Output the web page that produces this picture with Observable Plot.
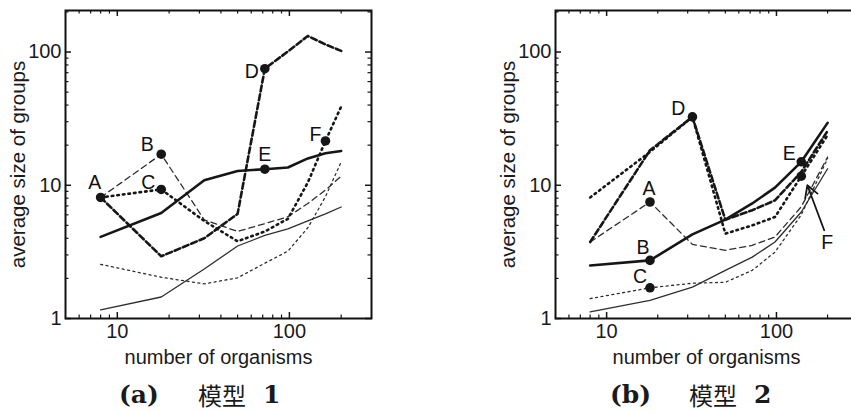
<!DOCTYPE html>
<html><head><meta charset="utf-8">
<script src="https://cdn.jsdelivr.net/npm/d3@7"></script>
<script src="https://cdn.jsdelivr.net/npm/@observablehq/plot@0.6"></script>
<style>
html,body{margin:0;padding:0;}
body{width:851px;height:413px;overflow:hidden;background:#fff;position:relative;font-family:"Liberation Sans",Arial,sans-serif;}
.panel{position:absolute;top:0;}
.cap{position:absolute;top:380px;height:30px;line-height:30px;color:#1a1a1a;white-space:pre;}
.lat{font-family:"DejaVu Serif",serif;font-weight:bold;font-size:25px;}
.cjk{font-family:"Noto Sans CJK SC",sans-serif;font-size:24px;}
</style></head><body>
<div id="pa" class="panel" style="left:0px;width:386px"></div>
<div id="pb" class="panel" style="left:490px;width:382px"></div>
<span class="cap lat" style="left:119px">(a)</span>
<span class="cap cjk" style="left:198px">模型</span>
<span class="cap lat" style="left:263px">1</span>
<span class="cap lat" style="left:610px">(b)</span>
<span class="cap cjk" style="left:689px">模型</span>
<span class="cap lat" style="left:754px">2</span>
<script>
// ---------- data ----------
const xA = [8, 18, 32, 50, 72, 98, 128, 162, 200];
const aThickSolid  = [4.1, 6.2, 10.9, 12.8, 13.2, 13.6, 15.9, 17.4, 18.1];
const aThinSolid   = [1.16, 1.45, 2.35, 3.5, 4.2, 4.7, 5.4, 6.1, 6.87];
const aThickDashed = [8.1, 2.93, 4.0, 6.1, 75, 101, 132, 114, 102];
const aThinDashed  = [8.1, 17.1, 5.5, 4.5, 5.15, 5.8, 7.3, 9.2, 11.7];
const aThickDotted = [8.1, 9.3, 5.4, 3.8, 4.5, 5.6, 10.5, 21.5, 39];
const aFineDotted  = [2.55, 2.04, 1.82, 2.02, 2.6, 3.2, 4.8, 8.2, 15.0];

const xB = [8, 18, 32, 50, 72, 98, 140, 200];
const bThickSolid  = [2.5, 2.73, 4.28, 5.52, 7.3, 9.6, 15.0, 29.4];
const bThinSolid   = [1.12, 1.37, 1.72, 2.3, 2.89, 3.75, 6.3, 13.3];
const bThickDashed = [3.75, 18.3, 32.6, 5.5, 6.5, 7.7, 12.6, 25.6];
const bThinDashed  = [3.75, 7.49, 3.6, 3.25, 3.54, 4.09, 6.9, 16.3];
const bThickDotted = [8.1, 17.8, 32.6, 4.33, 5.0, 5.78, 11.7, 23.8];
const bFineDotted  = [1.41, 1.70, 1.84, 1.87, 2.3, 3.15, 6.0, 15.9];

const pointLabels = ["A", "B", "C", "D", "E", "F"];
const pointXA = [8, 18, 18, 72, 72, 162];
const pointYA = [8.1, 17.1, 9.3, 75, 13.2, 21.5];
const pointXB = [18, 18, 18, 32, 140, 140];
const pointYB = [7.49, 2.73, 1.70, 32.6, 15.0, 11.7];

// annotation arrow (panel b, label F)
const arrowFromB = [191, 4.6];
const arrowToB = [152, 10];

const xTickLabels = [10, 100];
const yTickLabels = [1, 10, 100];
const xMinorTicks = [6, 7, 8, 9, 20, 30, 40, 50, 60, 70, 80, 90, 200];
const yMinorTicks = [2, 3, 4, 5, 6, 7, 8, 9, 20, 30, 40, 50, 60, 70, 80, 90, 200];

const xTitle = "number of organisms";
const yTitle = "average size of groups";

// ---------- styles ----------
const DARK = "#161616", MID = "#2e2e2e";
const styleOf = {
  thickSolid:  {stroke: DARK, strokeWidth: 2.6},
  thinSolid:   {stroke: MID, strokeWidth: 1.3},
  thickDashed: {stroke: DARK, strokeWidth: 2.6, strokeDasharray: "6,3"},
  thinDashed:  {stroke: MID, strokeWidth: 1.3, strokeDasharray: "6,4"},
  thickDotted: {stroke: DARK, strokeWidth: 2.6, strokeDasharray: "1.6,4"},
  fineDotted:  {stroke: MID, strokeWidth: 1.3, strokeDasharray: "2,3.5"}
};
const offsetsA = {A: [-6, -15], B: [-14, -9], C: [-13, -7], D: [-13, 3], E: [0, -14], F: [-10, -6]};
const offsetsB = {A: [-1, -13], B: [-7, -13], C: [-10, -11], D: [-14, -8], E: [-12, -8], F: [26, 67]};

function makePanel({xs, series, px, py, offsets, arrow, plotW}) {
  const mL = 65, mT = 10, mB = 62, mR = 15, plotH = 308;
  const marks = [];
  for (const [name, vals] of Object.entries(series)) {
    const rows = xs.map((x, i) => ({x, y: vals[i]}));
    marks.push(Plot.line(rows, {x: "x", y: "y", strokeLinejoin: "round", ...styleOf[name]}));
  }
  const pts = pointLabels.map((t, i) => ({t, x: px[i], y: py[i]}));
  marks.push(Plot.dot(pts, {x: "x", y: "y", r: 4.8, fill: DARK, stroke: "none"}));
  for (const p of pts) {
    const [dx, dy] = offsets[p.t];
    marks.push(Plot.text([p], {x: "x", y: "y", text: "t", dx, dy, fontSize: 19.5, fill: "#111"}));
  }
  if (arrow) {
    marks.push(Plot.arrow([arrow], {x1: d => d[0][0], y1: d => d[0][1], x2: d => d[1][0], y2: d => d[1][1],
      stroke: DARK, strokeWidth: 1.8, headLength: 11}));
  }
  // ticks (inward, all four sides)
  marks.push(Plot.tickX(xMinorTicks, {x: d => d, insetTop: plotH - 3.5, stroke: DARK, strokeWidth: 1.2}));
  marks.push(Plot.tickX(xMinorTicks, {x: d => d, insetBottom: plotH - 3.5, stroke: DARK, strokeWidth: 1.2}));
  marks.push(Plot.tickX(xTickLabels, {x: d => d, insetTop: plotH - 6, stroke: DARK, strokeWidth: 1.5}));
  marks.push(Plot.tickX(xTickLabels, {x: d => d, insetBottom: plotH - 6, stroke: DARK, strokeWidth: 1.5}));
  marks.push(Plot.tickY(yMinorTicks, {y: d => d, insetRight: plotW - 3.5, stroke: DARK, strokeWidth: 1.2}));
  marks.push(Plot.tickY(yMinorTicks, {y: d => d, insetLeft: plotW - 3.5, stroke: DARK, strokeWidth: 1.2}));
  marks.push(Plot.tickY(yTickLabels, {y: d => d, insetRight: plotW - 6, stroke: DARK, strokeWidth: 1.5}));
  marks.push(Plot.tickY(yTickLabels, {y: d => d, insetLeft: plotW - 6, stroke: DARK, strokeWidth: 1.5}));
  marks.push(Plot.frame({stroke: "#111", strokeWidth: 2}));
  // tick labels
  marks.push(Plot.text(xTickLabels, {x: d => d, text: d => String(d), frameAnchor: "bottom", dy: 19, fontSize: 20, fill: "#1a1a1a"}));
  marks.push(Plot.text(yTickLabels, {y: d => d, text: d => String(d), frameAnchor: "left", textAnchor: "end", dx: -4, fontSize: 20, fill: "#1a1a1a"}));
  // axis titles
  marks.push(Plot.text([xTitle], {text: d => d, frameAnchor: "bottom", textAnchor: "middle", dy: 45, fontSize: 20, fill: "#1a1a1a"}));
  marks.push(Plot.text([yTitle], {text: d => d, frameAnchor: "left", textAnchor: "middle", dx: -47, rotate: -90, fontSize: 20.5, fill: "#1a1a1a"}));
  return Plot.plot({
    width: mL + plotW + mR, height: mT + plotH + mB,
    marginLeft: mL, marginRight: mR, marginTop: mT, marginBottom: mB,
    x: {type: "log", domain: [5, 300]},
    y: {type: "log", domain: [1, 205]},
    axis: null,
    style: {fontFamily: "Liberation Sans, Arial, sans-serif", background: "transparent", maxWidth: "none", overflow: "visible"},
    marks
  });
}

document.getElementById("pa").append(makePanel({
  xs: xA,
  series: {thinSolid: aThinSolid, fineDotted: aFineDotted, thinDashed: aThinDashed, thickDotted: aThickDotted, thickDashed: aThickDashed, thickSolid: aThickSolid},
  px: pointXA, py: pointYA, offsets: offsetsA, arrow: null, plotW: 306
}));
document.getElementById("pb").append(makePanel({
  xs: xB,
  series: {thinSolid: bThinSolid, fineDotted: bFineDotted, thinDashed: bThinDashed, thickDotted: bThickDotted, thickDashed: bThickDashed, thickSolid: bThickSolid},
  px: pointXB, py: pointYB, offsets: offsetsB, arrow: [arrowFromB, arrowToB], plotW: 302
}));
</script>
</body></html>
